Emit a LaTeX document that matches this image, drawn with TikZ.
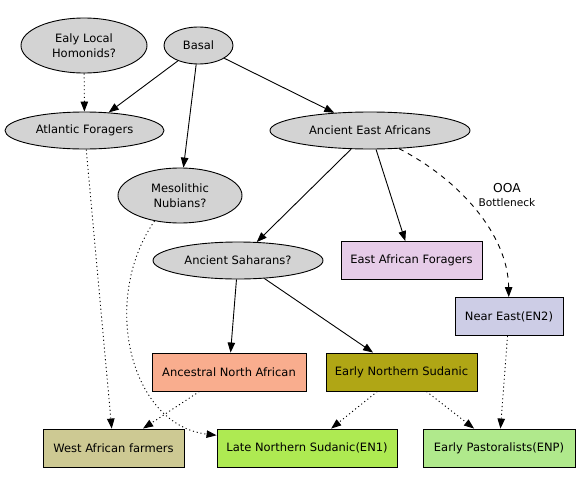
\documentclass[tikz,border=0pt]{standalone}
\usepackage{fontspec}
\setmainfont{DejaVu Sans}
\usetikzlibrary{positioning,arrows.meta,shapes.geometric}

\definecolor{ellgray}{HTML}{D3D3D3}
\definecolor{eafcol}{HTML}{E6CCE8}
\definecolor{necol}{HTML}{CDCDE6}
\definecolor{anacol}{HTML}{F9AD8E}
\definecolor{enscol}{HTML}{B0A615}
\definecolor{wafcol}{HTML}{CDC993}
\definecolor{lnscol}{HTML}{AEEA52}
\definecolor{enpcol}{HTML}{B0E98C}

\begin{document}
\begin{tikzpicture}[
    x=1pt, y=-1pt,
    >={Triangle[length=10pt,width=7.5pt]},
    line width=0.9pt,
    every node/.style={font=\fontsize{11.5}{15}\selectfont, align=center},
    ell/.style={ellipse, draw, fill=ellgray, inner sep=0pt},
    box/.style={rectangle, draw, inner sep=0pt, minimum height=38pt},
    dots/.style={dash pattern=on 1.1pt off 2.8pt},
    dashes/.style={dash pattern=on 5pt off 5pt}
]

\useasboundingbox (0,0) rectangle (585,479);

\node[ell, minimum width=126pt, minimum height=55pt] (ealy) at (84,45.5) {Ealy Local\\Homonids?};
\node[ell, minimum width=69pt, minimum height=37pt] (basal) at (198.5,45.5) {Basal};

\node[ell, minimum width=159pt, minimum height=37pt] (atl) at (84.5,130.5) {Atlantic Foragers};
\node[ell, minimum width=200pt, minimum height=37pt] (aea) at (370,130.5) {Ancient East Africans};

\node[ell, minimum width=124pt, minimum height=55pt] (meso) at (180,195.5) {Mesolithic\\Nubians?};
\node (ooa) at (507,195) {\fontsize{12.3}{15}\selectfont OOA\\[-1pt]\fontsize{10.6}{12}\selectfont Bottleneck};

\node[ell, minimum width=170pt, minimum height=37pt] (sah) at (238,260.5) {Ancient Saharans?};
\node[box, fill=eafcol, minimum width=141pt] (eaf) at (411.5,260.5) {East African Foragers};

\node[box, fill=necol, minimum width=108pt] (ne) at (509,316.5) {Near East(EN2)};

\node[box, fill=anacol, minimum width=154pt] (ana) at (229,372) {Ancestral North African};
\node[box, fill=enscol, minimum width=151pt] (ens) at (401.5,372) {Early Northern Sudanic};

\node[box, fill=wafcol, minimum width=141pt] (waf) at (113.5,448) {West African farmers};
\node[box, fill=lnscol, minimum width=180pt] (lns) at (307,448) {Late Northern Sudanic(EN1)};
\node[box, fill=enpcol, minimum width=152pt] (enp) at (499,448) {Early Pastoralists(ENP)};

\draw[->] (basal) -- (atl);
\draw[->] (basal) -- (meso);
\draw[->] (basal) -- (aea);
\draw[->, dots] (ealy) -- (atl);

\draw[->, dots] (atl) -- (waf);
\draw[->, dots] (meso.-135) .. controls (100,300) and (130,425) .. (lns.172);

\draw[->] (aea) -- (sah);
\draw[->] (aea) -- (eaf);
\draw[->, dashes] (aea.-32) .. controls (460,180) and (508,235) .. (ne);

\draw[->] (sah) -- (ana);
\draw[->] (sah) -- (ens);

\draw[->, dots] (ana) -- (waf);
\draw[->, dots] (ens) -- (lns);
\draw[->, dots] (ens) -- (enp);
\draw[->, dots] (ne) -- (enp);

\end{tikzpicture}
\end{document}
